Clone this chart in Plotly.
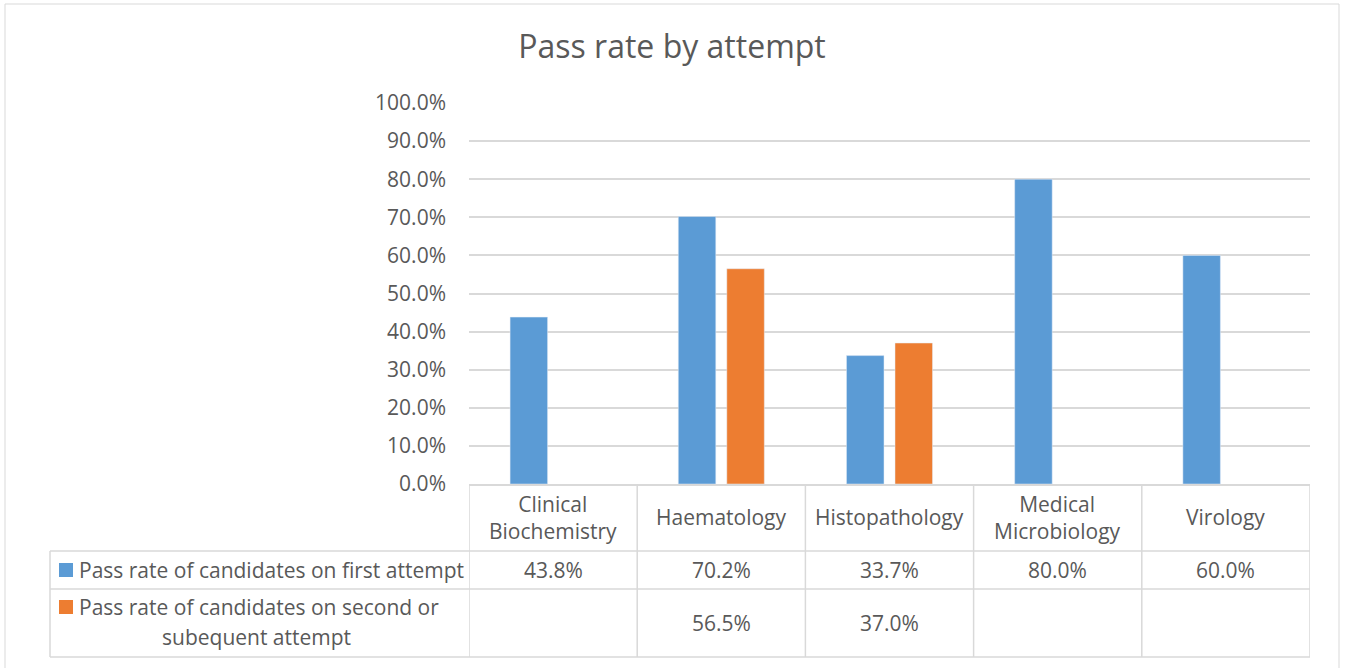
import plotly.graph_objects as go

categories = ["Clinical Biochemistry", "Haematology", "Histopathology", "Medical Microbiology", "Virology"]
category_labels = ["Clinical<br>Biochemistry", "Haematology", "Histopathology", "Medical<br>Microbiology", "Virology"]
series_names = ["Pass rate of candidates on first attempt",
                "Pass rate of candidates on second or subequent attempt"]
first_attempt = [0.438, 0.702, 0.337, 0.800, 0.600]
second_attempt = [None, 0.565, 0.370, None, None]
colors = ["#5B9BD5", "#ED7D31"]

W, H = 1347, 668
L, R, T, B = 469, 1310, 103, 484
TXT = "#595959"
GRID = "#D9D9D9"
FONT = "Open Sans"
FS = 21

def px(xp):
    return (xp - L) / (R - L)

def py(yp):
    return (B - yp) / (B - T)

fig = go.Figure()
fig.add_trace(go.Bar(x=categories, y=first_attempt, name=series_names[0], marker_color=colors[0]))
fig.add_trace(go.Bar(x=categories, y=second_attempt, name=series_names[1], marker_color=colors[1]))

shapes = []
annotations = []
line = dict(color=GRID, width=1.5)
row_tops = [B, 551, 589, 657]
for i in range(len(categories) + 1):
    shapes.append(dict(type="line", xref="x", yref="paper", x0=i - 0.5, x1=i - 0.5,
                       y0=py(B), y1=py(row_tops[-1]), line=line))
shapes.append(dict(type="line", xref="paper", yref="paper", x0=px(50), x1=px(50),
                   y0=py(551), y1=py(657), line=line))
for yy in row_tops[1:]:
    shapes.append(dict(type="line", xref="paper", yref="paper", x0=px(50), x1=1,
                       y0=py(yy), y1=py(yy), line=line))
shapes.append(dict(type="rect", xref="paper", yref="paper", x0=px(5), x1=px(1339),
                   y0=py(4), y1=py(672), line=dict(color=GRID, width=1), layer="below"))
shapes.append(dict(type="rect", xref="paper", yref="paper", x0=px(59), x1=px(73),
                   y0=py(577), y1=py(563), line=dict(width=0), fillcolor=colors[0]))
shapes.append(dict(type="rect", xref="paper", yref="paper", x0=px(59), x1=px(73),
                   y0=py(614), y1=py(600), line=dict(width=0), fillcolor=colors[1]))

font = dict(family=FONT, size=FS, color=TXT)
for i, lab in enumerate(category_labels):
    annotations.append(dict(x=categories[i], y=py(517), xref="x", yref="paper", text=lab,
                            showarrow=False, font=font, yanchor="middle", align="center"))
    v1 = first_attempt[i]
    v2 = second_attempt[i]
    annotations.append(dict(x=categories[i], y=py(570), xref="x", yref="paper",
                            text="" if v1 is None else f"{v1*100:.1f}%",
                            showarrow=False, font=font, yanchor="middle"))
    annotations.append(dict(x=categories[i], y=py(623), xref="x", yref="paper",
                            text="" if v2 is None else f"{v2*100:.1f}%",
                            showarrow=False, font=font, yanchor="middle"))

annotations.append(dict(x=px(77), y=py(570), xref="paper", yref="paper", text=series_names[0],
                        showarrow=False, font=font, xanchor="left", yanchor="middle"))
annotations.append(dict(x=px(77), y=py(607), xref="paper", yref="paper",
                        text="Pass rate of candidates on second or",
                        showarrow=False, font=font, xanchor="left", yanchor="middle"))
annotations.append(dict(x=px(256), y=py(637), xref="paper", yref="paper",
                        text="subequent attempt",
                        showarrow=False, font=font, xanchor="center", yanchor="middle"))

fig.update_layout(
    width=W, height=H,
    margin=dict(l=L, r=W - R, t=T, b=H - B, pad=0),
    paper_bgcolor="white", plot_bgcolor="white",
    title=dict(text="Pass rate by attempt", x=672 / W, xanchor="center", xref="container",
               y=1 - 47 / H, yanchor="middle", font=dict(family=FONT, size=32, color=TXT)),
    showlegend=False,
    barmode="group", bargap=0.423, bargroupgap=0.227,
    shapes=shapes, annotations=annotations,
    font=font,
)
fig.update_xaxes(showticklabels=False, showgrid=False, showline=True, linecolor=GRID,
                 linewidth=1.5, ticks="", range=[-0.5, 4.5])
fig.update_yaxes(range=[0, 1], dtick=0.1, tickformat=".1%", showgrid=True, gridcolor=GRID,
                 gridwidth=1.5, zeroline=False, showline=False, ticks="", ticklabelstandoff=22,
                 tickfont=dict(family=FONT, size=FS, color=TXT))

fig.write_html("out.html", config={"displayModeBar": False},
               post_script="document.body.style.margin='0';document.body.style.overflow='hidden';")
